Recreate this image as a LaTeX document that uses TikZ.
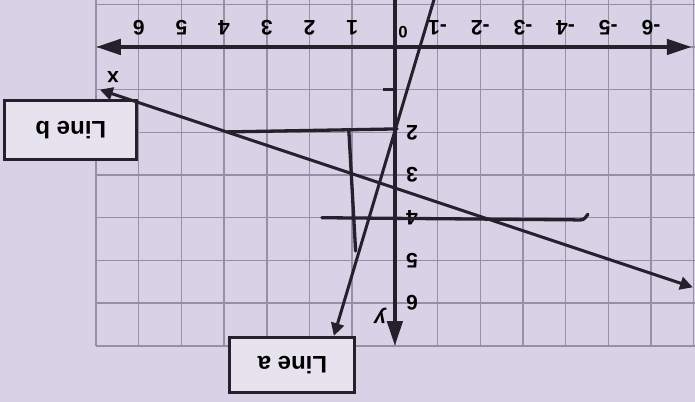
\documentclass[tikz,border=0pt]{standalone}
\usepackage{fontspec}
\setmainfont{Liberation Sans}
\usetikzlibrary{arrows.meta}

\definecolor{paper}{RGB}{216,210,230}
\definecolor{gridgray}{RGB}{150,144,166}
\definecolor{ink}{RGB}{36,32,44}
\definecolor{boxfill}{RGB}{230,226,238}

\tikzset{
  gridlines/.style={gridgray, line width=1pt},
  axisline/.style={ink, line width=2.5pt},
  axistip/.tip={Triangle[length=0.58cm,width=0.36cm]},
  graphline/.style={ink, line width=2pt},
  graphtip/.tip={Triangle[length=0.3cm,width=0.3cm]},
  handline/.style={ink, line width=2.2pt, line cap=round},
  numlabel/.style={font=\fontsize{14}{16}\selectfont\bfseries, inner sep=0pt},
  labelbox/.style={draw=ink, line width=2pt, fill=boxfill, rectangle,
    minimum width=2.93cm, minimum height=1.29cm,
    font=\fontsize{16}{18}\selectfont\bfseries}
}

\begin{document}
\begin{tikzpicture}[rotate=180, transform shape]
% photo background and margins
\fill[paper] (-7.03,-1.10) rectangle (9.25,8.31);
\useasboundingbox (-7.03,-1.10) rectangle (9.25,8.31);

% grid paper
\draw[gridlines] (-7.03,-1.10) grid (7,7);

% axes
\draw[axisline, axistip-axistip] (7.0,0) -- (-6.95,0);
\draw[axisline, -axistip] (0,-1.10) -- (0,7.0);
\draw[ink, line width=1.8pt] (0,1) -- (0.28,1);

% axis numbers
\foreach \n in {1,...,6}
  \node[numlabel] (xpos\n) at (\n,-0.45) {\n};
\foreach \n in {1,...,6}
  \node[numlabel] (xneg\n) at (-\n,-0.45) {-\n};
\foreach \n in {2,...,6}
  \node[numlabel] (ynum\n) at (-0.4,\n) {\n};
\node[font=\fontsize{11}{12}\selectfont\bfseries] (origin) at (-0.19,-0.35) {0};
\node[font=\fontsize{14}{16}\selectfont\bfseries] (xname) at (6.6,0.7) {x};
\node[font=\fontsize{14}{16}\selectfont\bfseries\itshape] (yname) at (0.35,6.3) {y};

% label boxes
\node[labelbox] (linea) at (2.40,7.45) {Line a};
\node[labelbox, minimum width=3.09cm, minimum height=1.38cm] (lineb) at (7.59,1.95) {Line b};

% line a and line b
\coordinate (atop) at (-0.92,-1.12);
\coordinate (bleft) at (6.91,1.0);
\coordinate (bright) at (-6.98,5.63);
\draw[graphline, -graphtip] (atop) -- (linea.215);
\draw[graphline, graphtip-graphtip] (bleft) -- (bright);

% hand-drawn marks
\draw[handline] (3.93,1.99) -- (-0.05,1.92);
\draw[handline] (1.08,1.93) -- (0.92,4.78);
\draw[handline] (1.71,4.0) -- (-4.2,4.05) .. controls (-4.42,4.06) .. (-4.52,3.92);
\end{tikzpicture}
\end{document}
